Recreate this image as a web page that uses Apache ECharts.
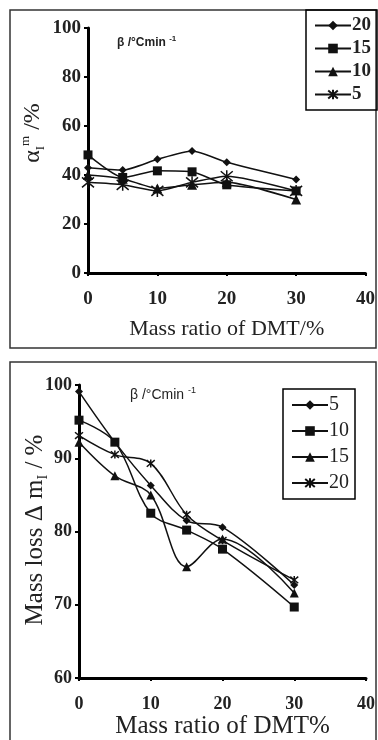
<!DOCTYPE html>
<html>
<head>
<meta charset="utf-8">
<script src="https://cdn.jsdelivr.net/npm/echarts@6/dist/echarts.min.js"></script>
<style>html,body{margin:0;padding:0;background:#fff}#c{width:378px;height:740px}</style>
</head>
<body>
<div id="c"></div>
<script>
// ---- data ----
const xValues = [0, 5, 10, 15, 20, 30];
// top chart: alpha_I^m (%) for heating rates (°C/min)
const topNames = ['20', '15', '10', '5'];
const top20 = [43, 42, 46.4, 49.8, 45.2, 38.2];
const top15 = [48.2, 39, 41.7, 41.3, 36, 33.5];
const top10 = [40, 38.5, 34.5, 36, 37, 30];
const top5  = [37, 36, 33.5, 37, 39.5, 33.5];
// bottom chart: mass loss (%)
const botNames = ['5', '10', '15', '20'];
const bot5  = [99.1, 92.2, 86.3, 81.5, 80.6, 72.7];
const bot10 = [95.2, 92.2, 82.5, 80.2, 77.6, 69.7];
const bot15 = [92.2, 87.6, 85.0, 75.2, 79.0, 71.6];
const bot20 = [93.1, 90.5, 89.3, 82.3, 78.8, 73.4];

const pairs = arr => xValues.map((x, i) => [x, arr[i]]);
const SERIF = '"Liberation Serif", "DejaVu Serif", serif';
const SANS = '"Liberation Sans", Arial, sans-serif';
const STAR = 'path://M0,0L10,10M10,0L0,10M5,-1L5,11';

function mkSeries(name, data, grid, symbol, size, smooth) {
  return {
    type: 'line', name: name, xAxisIndex: grid, yAxisIndex: grid,
    data: pairs(data), symbol: symbol, symbolSize: size, smooth: smooth,
    lineStyle: {color: '#111', width: 1.5},
    itemStyle: {color: '#111', borderColor: '#111', borderWidth: symbol === STAR ? 1.5 : 0},
    emphasis: {disabled: true}, animation: false
  };
}

function xAxis(grid, nameGap, nameSize, labelSize) {
  return {
    type: 'value', gridIndex: grid, min: 0, max: 40, interval: 10,
    name: grid === 0 ? 'Mass ratio of DMT/%' : 'Mass ratio of DMT%',
    nameLocation: 'middle', nameGap: nameGap,
    nameTextStyle: {fontFamily: SERIF, fontSize: nameSize, color: '#222'},
    axisLine: {lineStyle: {color: '#000', width: 3}},
    axisTick: {show: true, length: 3, lineStyle: {color: '#000', width: 2}},
    axisLabel: {fontFamily: SERIF, fontSize: labelSize, fontWeight: 'bold', color: '#222', margin: 17},
    splitLine: {show: false}
  };
}
function yAxis(grid, min, max, interval, labelSize) {
  return {
    type: 'value', gridIndex: grid, min: min, max: max, interval: interval,
    axisLine: {show: true, lineStyle: {color: '#000', width: 3}},
    axisTick: {show: true, length: 4, lineStyle: {color: '#000', width: 2}},
    axisLabel: {fontFamily: SERIF, fontSize: labelSize, fontWeight: 'bold', color: '#222', margin: 7},
    splitLine: {show: false}
  };
}

const chart = echarts.init(document.getElementById('c'), null, {renderer: 'canvas'});
chart.setOption({
  backgroundColor: '#fff',
  animation: false,
  grid: [
    {left: 88, right: 10, top: 28, height: 245},
    {left: 79, right: 10, top: 385, height: 298}
  ],
  xAxis: [xAxis(0, 45, 22, 19), xAxis(1, 31, 25, 18)],
  yAxis: [yAxis(0, 0, 100, 20, 19), yAxis(1, 60, 100, 10, 18)],
  legend: [
    {
      data: topNames.map(n => 't' + n), formatter: n => n.slice(1),
      orient: 'vertical', left: 306, top: 10, width: 70,
      padding: [6, 6, 6, 8], itemGap: 4, itemWidth: 36, itemHeight: 12,
      borderColor: '#000', borderWidth: 1.5, selectedMode: false,
      textStyle: {fontFamily: SERIF, fontSize: 19, fontWeight: 'bold', color: '#222', padding: [0, 0, 0, -4]}
    },
    {
      data: botNames.map(n => 'b' + n), formatter: n => n.slice(1),
      orient: 'vertical', left: 283, top: 389,
      padding: [6, 6, 6, 8], itemGap: 6, itemWidth: 36, itemHeight: 12,
      borderColor: '#000', borderWidth: 1.5, selectedMode: false,
      textStyle: {fontFamily: SERIF, fontSize: 20, color: '#222', padding: [0, 0, 0, -4]}
    }
  ],
  series: [
    mkSeries('t20', top20, 0, 'diamond', 8, 0.2),
    mkSeries('t15', top15, 0, 'rect', 9, 0.2),
    mkSeries('t10', top10, 0, 'triangle', 10, 0.2),
    mkSeries('t5', top5, 0, STAR, 12, 0.2),
    mkSeries('b5', bot5, 1, 'diamond', 8, 0.35),
    mkSeries('b10', bot10, 1, 'rect', 9, 0.35),
    mkSeries('b15', bot15, 1, 'triangle', 9, 0.35),
    mkSeries('b20', bot20, 1, STAR, 8, 0.35)
  ],
  graphic: [
    {type: 'rect', shape: {x: 10, y: 10, width: 366, height: 338}, style: {fill: null, stroke: '#333', lineWidth: 1.5}, silent: true, z: -1},
    {type: 'rect', shape: {x: 10, y: 362, width: 366, height: 400}, style: {fill: null, stroke: '#333', lineWidth: 1.5}, silent: true, z: -1},
    {type: 'text', x: 117, y: 43, style: {
      text: '{a|β /°Cmin }{s|-1}', verticalAlign: 'middle',
      rich: {a: {fontFamily: SANS, fontSize: 12, fontWeight: 'bold', fill: '#222', lineHeight: 16},
             s: {fontFamily: SANS, fontSize: 8, fontWeight: 'bold', fill: '#222', verticalAlign: 'top', lineHeight: 16}}}},
    {type: 'text', x: 130, y: 395, style: {
      text: '{a|β /°Cmin }{s|-1}', verticalAlign: 'middle',
      rich: {a: {fontFamily: SANS, fontSize: 14, fill: '#222', lineHeight: 18},
             s: {fontFamily: SANS, fontSize: 9, fill: '#222', verticalAlign: 'top', lineHeight: 18}}}},
    {type: 'text', x: 33, y: 133, rotation: Math.PI / 2, style: {
      text: '{a|α}{s|I}{p|m}{a| /%}', align: 'center', verticalAlign: 'middle',
      rich: {a: {fontFamily: SERIF, fontSize: 24, fill: '#222', lineHeight: 28},
             s: {fontFamily: SERIF, fontSize: 13, fill: '#222', verticalAlign: 'bottom', lineHeight: 28},
             p: {fontFamily: SERIF, fontSize: 13, fill: '#222', verticalAlign: 'top', lineHeight: 28}}}},
    {type: 'text', x: 35, y: 530, rotation: Math.PI / 2, style: {
      text: '{a|Mass loss Δ m}{s|I}{a| / %}', align: 'center', verticalAlign: 'middle',
      rich: {a: {fontFamily: SERIF, fontSize: 25, fill: '#222', lineHeight: 30},
             s: {fontFamily: SERIF, fontSize: 14, fill: '#222', verticalAlign: 'bottom', lineHeight: 30}}}}
  ]
});
</script>
</body>
</html>
